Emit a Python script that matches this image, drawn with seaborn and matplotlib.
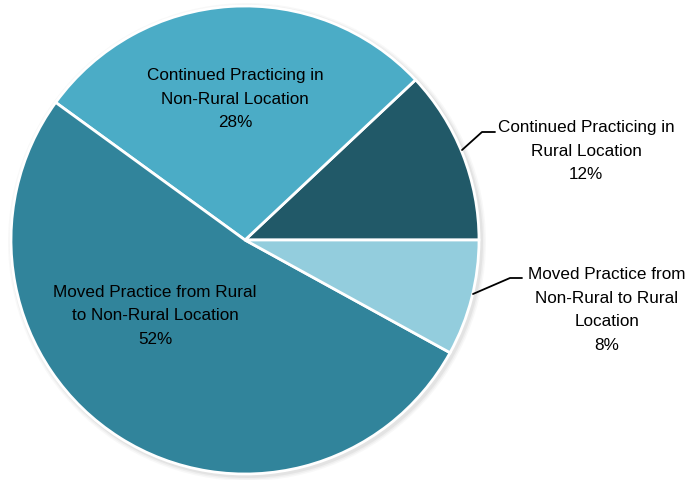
import matplotlib
matplotlib.use("Agg")
import matplotlib.pyplot as plt
import seaborn as sns

# slices, counter-clockwise from 3 o'clock
CATEGORIES = [
    "Continued Practicing in\nRural Location",
    "Continued Practicing in\nNon-Rural Location",
    "Moved Practice from Rural\nto Non-Rural Location",
    "Moved Practice from\nNon-Rural to Rural\nLocation",
]
SHARES = [12, 28, 52, 8]
COLORS = ["#215968", "#4BACC6", "#31849B", "#93CDDD"]

sns.set_theme(style="white")
plt.rcParams["font.family"] = ["Liberation Sans", "DejaVu Sans"]

W, H = 691, 481
fig = plt.figure(figsize=(W / 100, H / 100), dpi=100)
ax = fig.add_axes([0, 0, 1, 1])

cx, cy, r = 245, 240, 234

# soft shadow behind the pie
for grow, alpha in [(5, 0.05), (3.5, 0.07), (2, 0.10)]:
    ax.add_patch(plt.Circle((cx + 2, cy - 2), r + grow, color="gray",
                            alpha=alpha, lw=0, zorder=0))

wedges, _ = ax.pie(
    SHARES, colors=COLORS, startangle=0, counterclock=True,
    center=(cx, cy), radius=r, frame=True,
    wedgeprops=dict(edgecolor="white", linewidth=2),
)
ax.set_xlim(0, W)
ax.set_ylim(0, H)
ax.set_aspect("equal")
ax.axis("off")

fs = 12.3
ls = 1.72
labels = [f"{c}\n{s}%" for c, s in zip(CATEGORIES, SHARES)]
txt = dict(ha="center", va="center", fontsize=fs, linespacing=ls,
           color="black")

# inside labels
ax.text(235, H - 99, labels[1], **txt)
ax.text(155, H - 316, labels[2], **txt)

# outside labels with leader lines
ax.text(586, H - 151, labels[0], **txt)
ax.plot([462, 482, 495], [H - 151, H - 133, H - 133], color="black", lw=1.3)

ax.text(607, H - 310, labels[3], **txt)
ax.plot([473, 510, 522], [H - 295, H - 279, H - 279], color="black", lw=1.3)

fig.savefig("out.png", dpi=100)
